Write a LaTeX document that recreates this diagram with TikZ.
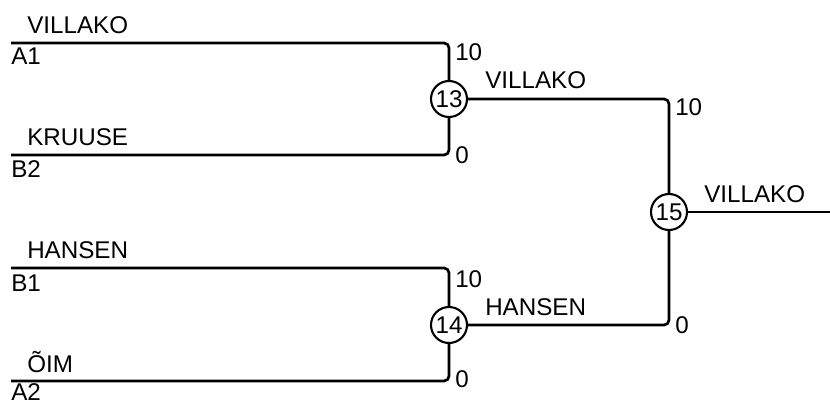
\documentclass[tikz,border=0pt]{standalone}
\usepackage{fontspec}
\setmainfont{Liberation Sans}
\tikzset{
  game/.style={circle,draw,line width=1.5pt,inner sep=0pt,minimum size=0.9cm},
  bline/.style={line width=1.9pt,rounded corners=3.5pt},
  lbl/.style={anchor=base west,inner sep=0pt}
}
\begin{document}
\begin{tikzpicture}[x=0.025cm,y=-0.025cm,font=\fontsize{17.2}{20}\selectfont]
  \useasboundingbox (0,0) rectangle (830,403);
  % games
  \node[game] (m13) at (449,99) {13};
  \node[game] (m14) at (449,325) {14};
  \node[game] (m15) at (669,212) {15};
  % entry points
  \coordinate (a1) at (11,43);
  \coordinate (b2) at (11,155);
  \coordinate (b1) at (11,268);
  \coordinate (a2) at (11,381);
  \coordinate (out) at (830,212);
  % bracket lines
  \draw[bline] (a1) -| (m13);
  \draw[bline] (b2) -| (m13);
  \draw[bline] (b1) -| (m14);
  \draw[bline] (a2) -| (m14);
  \draw[bline] (m13) -| (m15);
  \draw[bline] (m14) -| (m15);
  \draw[bline] (m15) -- (out);
  % names and seeds
  \node[lbl] (pa1) at (27,33) {VILLAKO};
  \node[lbl] (sa1) at (11,64) {A1};
  \node[lbl] (pb2) at (27,145) {KRUUSE};
  \node[lbl] (sb2) at (11,177) {B2};
  \node[lbl] (pb1) at (27,258) {HANSEN};
  \node[lbl] (sb1) at (11,291) {B1};
  \node[lbl] (pa2) at (27,372) {ÕIM};
  \node[lbl] (sa2) at (11,400) {A2};
  \node[lbl] (w13) at (485,88) {VILLAKO};
  \node[lbl] (w14) at (485,315) {HANSEN};
  \node[lbl] (w15) at (704,202) {VILLAKO};
  % scores
  \node[lbl] (ra1) at (455,60) {10};
  \node[lbl] (rb2) at (455,163) {0};
  \node[lbl] (rb1) at (455,287) {10};
  \node[lbl] (ra2) at (455,387) {0};
  \node[lbl] (r13) at (675,115) {10};
  \node[lbl] (r14) at (675,333) {0};
\end{tikzpicture}
\end{document}
